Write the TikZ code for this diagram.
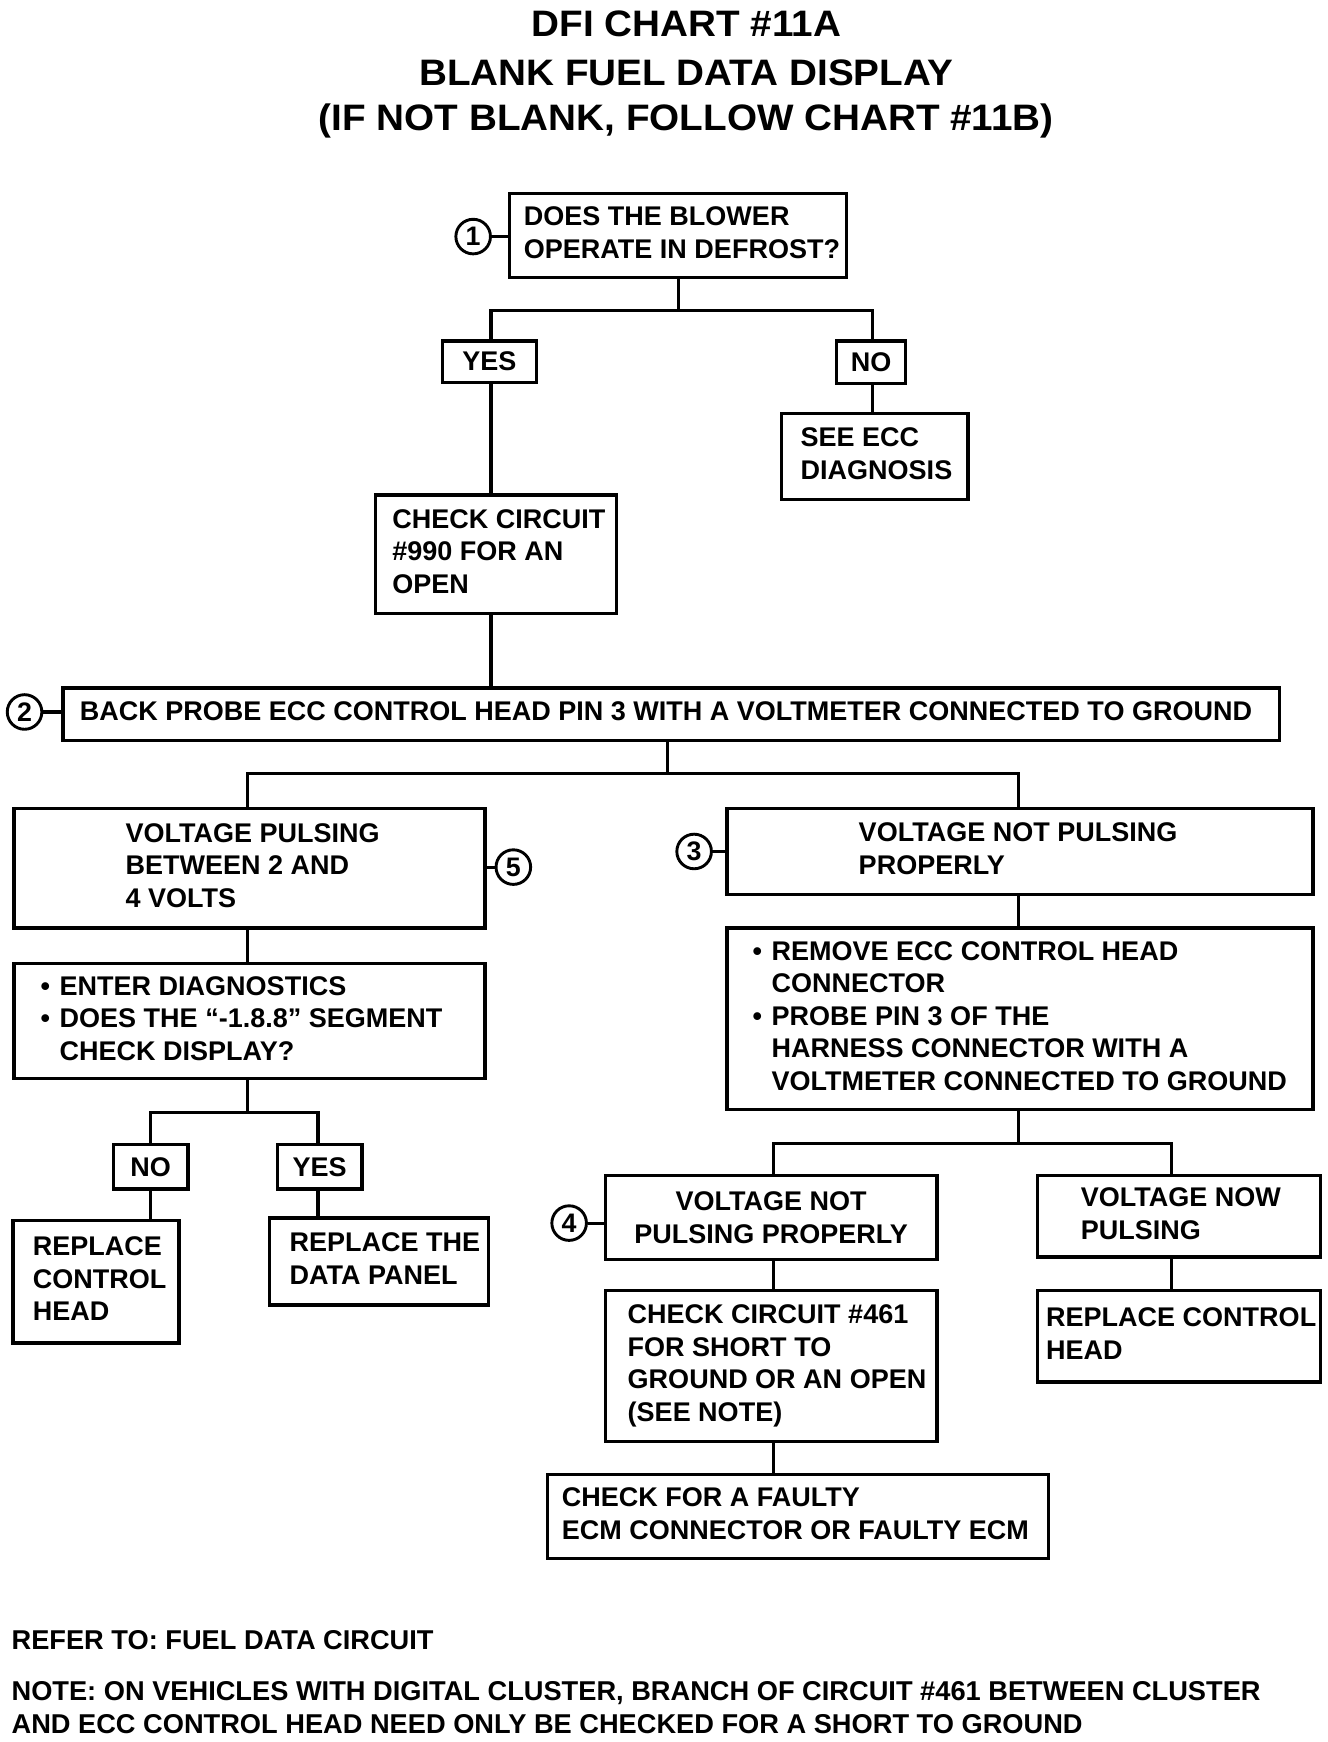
\documentclass[tikz,border=0pt]{standalone}
\usepackage{fontspec}
\setmainfont{Liberation Sans}
\newfontfamily\titlefam{Liberation Sans}[FakeStretch=1.05]
\newcommand{\bodyfont}{\bfseries\fontsize{12.1}{14.6}\selectfont}
\newcommand{\btxt}[3]{\makebox[#1][l]{\hspace*{#2}\begin{tabular}{@{}l@{}}#3\end{tabular}}}
\newcommand{\bul}[1]{\makebox[8.5pt][l]{\textbullet}#1}
\newcommand{\ind}[1]{\hspace*{8.5pt}#1}
\tikzset{
  bx/.style={draw, line width=1.5pt, anchor=north west, inner sep=0pt, font=\bodyfont},
  circ/.style={circle, draw, line width=1.3pt, minimum size=15.5pt, inner sep=0pt, font=\bfseries\fontsize{12}{12}\selectfont},
  ln/.style={line width=1.4pt},
  ttl/.style={font=\titlefam\bfseries\fontsize{16.5}{16.5}\selectfont, inner sep=0pt},
  foot/.style={font=\bfseries\fontsize{12.2}{14}\selectfont, anchor=west, inner sep=0pt}
}
\begin{document}
\begin{tikzpicture}[x=0.5pt,y=-0.5pt]
\useasboundingbox (0,0) rectangle (1190,1561);
% titles
\node[ttl] (t1) at (615,21) {DFI CHART \#11A};
\node[ttl] (t2) at (615,65) {BLANK FUEL DATA DISPLAY};
\node[ttl] (t3) at (615,108) {(IF NOT BLANK, FOLLOW CHART \#11B)};
% boxes
\node[bx, minimum width=151pt, minimum height=37.5pt] (b1) at (455,172) {\btxt{151pt}{6.5pt}{DOES THE BLOWER\\OPERATE IN DEFROST?}};
\node[circ] (c1) at (424,212) {1};
\node[bx, minimum width=42pt, minimum height=18.5pt] (yes1) at (395,304) {YES};
\node[bx, minimum width=31pt, minimum height=19pt] (no1) at (748,304) {NO};
\node[bx, minimum width=83.5pt, minimum height=38.5pt] (see) at (699,369) {\btxt{83.5pt}{8.5pt}{SEE ECC\\DIAGNOSIS}};
\node[bx, minimum width=108pt, minimum height=53pt] (chk990) at (335,442) {\btxt{108pt}{7.5pt}{CHECK CIRCUIT\\\#990 FOR AN\\OPEN}};
\node[bx, minimum width=545pt, minimum height=23.5pt] (back) at (55,615) {\btxt{545pt}{7.5pt}{BACK PROBE ECC CONTROL HEAD PIN 3 WITH A VOLTMETER CONNECTED TO GROUND}};
\node[circ] (c2) at (22,638) {2};
\node[bx, minimum width=211pt, minimum height=53.5pt] (vp) at (11,723) {\btxt{211pt}{50pt}{VOLTAGE PULSING\\BETWEEN 2 AND\\4 VOLTS}};
\node[circ] (c5) at (460,777) {5};
\node[bx, minimum width=262.5pt, minimum height=38.5pt] (vnp) at (650,723) {\btxt{262.5pt}{59pt}{VOLTAGE NOT PULSING\\PROPERLY}};
\node[circ] (c3) at (622,763) {3};
\node[bx, minimum width=211pt, minimum height=51.5pt] (enter) at (11,862) {\btxt{211pt}{12pt}{\bul{ENTER DIAGNOSTICS}\\\bul{DOES THE ``-1.8.8'' SEGMENT}\\\ind{CHECK DISPLAY?}}};
\node[bx, minimum width=33.5pt, minimum height=20pt] (no2) at (100,1024) {NO};
\node[bx, minimum width=38pt, minimum height=20pt] (yes2) at (247,1024) {YES};
\node[bx, minimum width=74.5pt, minimum height=55pt] (rch1) at (10,1092) {\btxt{74.5pt}{9pt}{REPLACE\\CONTROL\\HEAD}};
\node[bx, minimum width=98pt, minimum height=39pt] (rdp) at (240,1090) {\btxt{98pt}{9pt}{REPLACE THE\\DATA PANEL}};
\node[bx, minimum width=262.5pt, minimum height=81.5pt] (remove) at (650,830) {\btxt{262.5pt}{11.5pt}{\bul{REMOVE ECC CONTROL HEAD}\\\ind{CONNECTOR}\\\bul{PROBE PIN 3 OF THE}\\\ind{HARNESS CONNECTOR WITH A}\\\ind{VOLTMETER CONNECTED TO GROUND}}};
\node[bx, minimum width=148.5pt, minimum height=37.5pt, align=center] (vnpp) at (541,1052) {VOLTAGE NOT\\PULSING PROPERLY};
\node[circ] (c4) at (510,1096) {4};
\node[bx, minimum width=127pt, minimum height=36.5pt] (vnow) at (928,1052) {\btxt{127pt}{19.5pt}{VOLTAGE NOW\\PULSING}};
\node[bx, minimum width=148.5pt, minimum height=67.5pt] (c461) at (541,1155) {\btxt{148.5pt}{10pt}{CHECK CIRCUIT \#461\\FOR SHORT TO\\GROUND OR AN OPEN\\(SEE NOTE)}};
\node[bx, minimum width=127pt, minimum height=41pt] (rch2) at (928,1155) {\btxt{127pt}{4pt}{REPLACE CONTROL\\HEAD}};
\node[bx, minimum width=224.5pt, minimum height=37.5pt] (faulty) at (489,1320) {\btxt{224.5pt}{6.5pt}{CHECK FOR A FAULTY\\ECM CONNECTOR OR FAULTY ECM}};
% footer
\node[foot] (f1) at (10,1470) {REFER TO: FUEL DATA CIRCUIT};
\node[foot] (f2) at (10,1517) {NOTE: ON VEHICLES WITH DIGITAL CLUSTER, BRANCH OF CIRCUIT \#461 BETWEEN CLUSTER};
\node[foot] (f3) at (10,1545) {AND ECC CONTROL HEAD NEED ONLY BE CHECKED FOR A SHORT TO GROUND};
% connectors
\coordinate (j1) at (608,278);
\draw[ln] (b1.south -| j1) -- (j1);
\draw[ln] (yes1.north -| 440,0) |- (j1) -| (no1.north -| 782,0);
\draw[ln] (yes1.south -| 440,0) -- (chk990.north -| 440,0);
\draw[ln] (no1.south -| 782,0) -- (see.north -| 782,0);
\draw[ln] (chk990.south -| 440,0) -- (back.north -| 440,0);
\draw[ln] (c1.east) -- (c1.east -| b1.west);
\draw[ln] (c2.east) -- (c2.east -| back.west);
\coordinate (j2) at (598,693);
\draw[ln] (back.south -| j2) -- (j2);
\draw[ln] (vp.north -| 222,0) |- (j2) -| (vnp.north -| 913,0);
\draw[ln] (c5.west) -- (c5.west -| vp.east);
\draw[ln] (c3.east) -- (c3.east -| vnp.west);
\draw[ln] (vp.south -| 222,0) -- (enter.north -| 222,0);
\coordinate (j3) at (222,997);
\draw[ln] (enter.south -| j3) -- (j3);
\draw[ln] (no2.north -| 135,0) |- (j3) -| (yes2.north -| 285,0);
\draw[ln] (no2.south -| 135,0) -- (rch1.north -| 135,0);
\draw[ln] (yes2.south -| 285,0) -- (rdp.north -| 285,0);
\draw[ln] (vnp.south -| 913,0) -- (remove.north -| 913,0);
\coordinate (j4) at (913,1025);
\draw[ln] (remove.south -| j4) -- (j4);
\draw[ln] (vnpp.north -| 693,0) |- (j4) -| (vnow.north -| 1050,0);
\draw[ln] (c4.east) -- (c4.east -| vnpp.west);
\draw[ln] (vnpp.south -| 693,0) -- (c461.north -| 693,0);
\draw[ln] (vnow.south -| 1050,0) -- (rch2.north -| 1050,0);
\draw[ln] (c461.south -| 693,0) -- (faulty.north -| 693,0);
\end{tikzpicture}
\end{document}
